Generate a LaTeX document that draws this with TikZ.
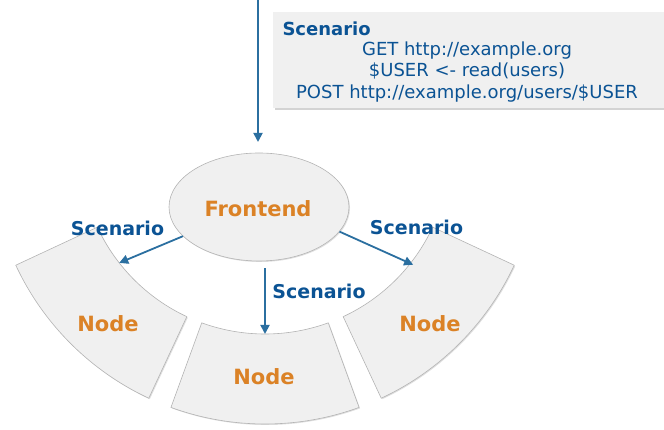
\documentclass[tikz,border=0pt]{standalone}
\usepackage{fontspec}
\setmainfont{DejaVu Sans}
\usetikzlibrary{shapes.geometric,shadows,arrows.meta}
\definecolor{lblblue}{HTML}{0B5394}
\definecolor{arrblue}{HTML}{2B6FA0}
\definecolor{nodeorange}{HTML}{DB8226}
\definecolor{boxgray}{HTML}{F0F0F0}
\definecolor{edgegray}{HTML}{B4B4B4}
\tikzset{
  sector/.style={fill=boxgray, draw=edgegray, line width=0.6pt,
    drop shadow={shadow xshift=1pt, shadow yshift=-1pt, opacity=0.25}},
  flow/.style={arrblue, line width=1.8pt, -{Triangle[length=9pt,width=9pt]}},
  scentext/.style={text=lblblue, font=\fontsize{19}{22}\selectfont\bfseries, anchor=base},
  nodetext/.style={text=nodeorange, font=\fontsize{21}{24}\selectfont\bfseries, anchor=base},
  boxline/.style={text=lblblue, font=\fontsize{18}{21}\selectfont, anchor=base}
}
\begin{document}
\begin{tikzpicture}[x=1pt,y=1pt]
\useasboundingbox (0,0) rectangle (664,430);
% scenario box
\node (scenbox) [fill=boxgray, minimum width=397pt, minimum height=96pt, inner sep=0pt,
  drop shadow={shadow xshift=1.5pt, shadow yshift=-2pt, opacity=0.35}] at (471.5,370) {};
\node (scentitle) [scentext, font=\fontsize{18}{21}\selectfont\bfseries, anchor=base west] at (279,394) {Scenario};
\node (getline) [boxline] at (467,374) {GET http://example.org};
\node (readline) [boxline] at (467,353) {\$USER <- read(users)};
\node (postline) [boxline] at (467,331) {POST http://example.org/users/\$USER};
% ring of nodes
\coordinate (ring) at (265,281);
\draw [sector] ([shift={(205:185)}]ring) arc[start angle=205, end angle=245, radius=185]
  -- ([shift={(245:275)}]ring) arc[start angle=245, end angle=205, radius=275] -- cycle;
\draw [sector] ([shift={(250:185)}]ring) arc[start angle=250, end angle=290, radius=185]
  -- ([shift={(290:275)}]ring) arc[start angle=290, end angle=250, radius=275] -- cycle;
\draw [sector] ([shift={(295:185)}]ring) arc[start angle=295, end angle=335, radius=185]
  -- ([shift={(335:275)}]ring) arc[start angle=335, end angle=295, radius=275] -- cycle;
\node (leftnode) [nodetext] at (108,98) {Node};
\node (midnode) [nodetext] at (264,45) {Node};
\node (rightnode) [nodetext] at (430,98) {Node};
% frontend
\node (front) [ellipse, fill=boxgray, draw=edgegray, line width=0.6pt, minimum width=180pt,
  minimum height=108pt, inner sep=0pt,
  drop shadow={shadow xshift=1pt, shadow yshift=-1pt, opacity=0.25}] at (259,223) {};
\node (fronttext) [nodetext] at (258,213) {Frontend};
% arrows
\coordinate (topin) at (258,430);
\coordinate (lefttip) at ([shift={(218:185)}]ring);
\coordinate (midtip) at ([shift={(270:185)}]ring);
\coordinate (righttip) at ([shift={(322:188)}]ring);
\draw [flow] (topin) -- (258,288);
\draw [flow] (front.201) -- (lefttip);
\draw [flow] ([yshift=-7pt]front.south -| midtip) -- (midtip);
\draw [flow] (front.343) -- (righttip);
\node (leftscen) [scentext] at (117.5,194) {Scenario};
\node (midscen) [scentext] at (319,131) {Scenario};
\node (rightscen) [scentext] at (416.5,195) {Scenario};
\end{tikzpicture}
\end{document}
